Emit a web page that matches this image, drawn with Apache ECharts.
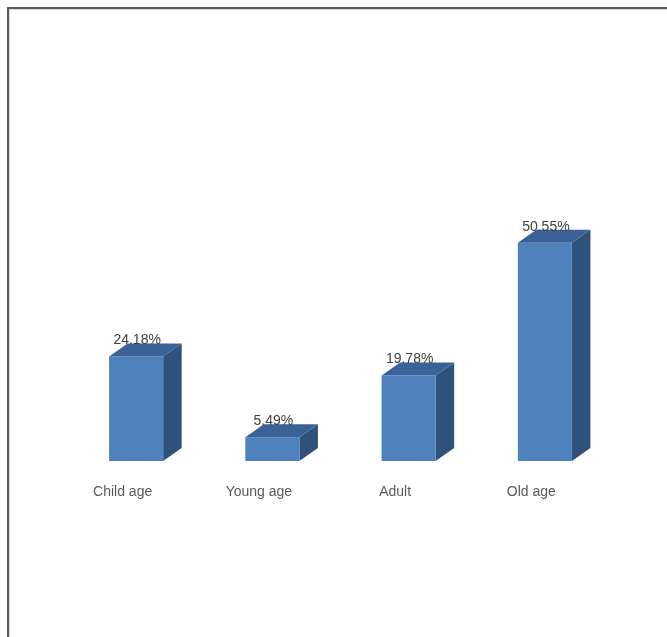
<!DOCTYPE html>
<html>
<head>
<meta charset="utf-8">
<script src="https://cdn.jsdelivr.net/npm/echarts@6/dist/echarts.min.js"></script>
<style>
  html, body { margin: 0; padding: 0; background: #ffffff; }
  #chart { width: 667px; height: 637px; }
</style>
</head>
<body>
<div id="chart"></div>
<script>
// Age groups and their share of the total (%)
const categories = ['Child age', 'Young age', 'Adult', 'Old age'];
const shares = [24.18, 5.49, 19.78, 50.55];

const FRONT = '#4f81bd';
const TOP = '#3a6299';
const SIDE = '#2f527c';
const DEPTH_X = 18.5;
const DEPTH_Y = 13;

const chart = echarts.init(document.getElementById('chart'), null, { renderer: 'canvas' });

// Pseudo-3D column: front face, top face and right side face
function renderColumn(params, api) {
  const idx = api.value(0);
  const val = api.value(1);
  const top = api.coord([idx, val]);
  const base = api.coord([idx, 0]);
  const w = api.size([1, 0])[0] * 0.397;
  const x0 = top[0] - w / 2;
  const x1 = top[0] + w / 2;
  const yT = top[1];
  const yB = base[1];
  return {
    type: 'group',
    children: [
      {
        type: 'polygon',
        shape: { points: [[x1, yT], [x1 + DEPTH_X, yT - DEPTH_Y], [x1 + DEPTH_X, yB - DEPTH_Y], [x1, yB]] },
        style: { fill: SIDE }
      },
      {
        type: 'rect',
        shape: { x: x0, y: yT, width: w, height: yB - yT },
        style: { fill: FRONT }
      },
      {
        type: 'polygon',
        shape: { points: [[x0, yT], [x0 + DEPTH_X, yT - DEPTH_Y], [x1 + DEPTH_X, yT - DEPTH_Y], [x1, yT]] },
        style: { fill: TOP }
      },
      {
        type: 'text',
        style: {
          x: top[0] + 1,
          y: yT - 16,
          text: val.toFixed(2) + '%',
          align: 'center',
          verticalAlign: 'middle',
          fill: '#404040',
          font: '14px "Liberation Sans", Arial, sans-serif'
        }
      }
    ]
  };
}

chart.setOption({
  backgroundColor: '#ffffff',
  animation: false,
  grid: { left: 68, right: 54, top: 202, bottom: 176, containLabel: false },
  xAxis: {
    type: 'category',
    data: categories,
    axisLine: { show: false },
    axisTick: { show: false },
    splitLine: { show: false },
    axisLabel: {
      margin: 24,
      padding: [0, 27, 0, 0],
      color: '#595959',
      fontSize: 14,
      fontFamily: '"Liberation Sans", Arial, sans-serif'
    }
  },
  yAxis: {
    type: 'value',
    min: 0,
    max: 60,
    show: false,
    splitLine: { show: false }
  },
  graphic: [
    { type: 'rect', shape: { x: 7, y: 7, width: 660, height: 2 }, style: { fill: '#5a5a5a' } },
    { type: 'rect', shape: { x: 7, y: 7, width: 2, height: 630 }, style: { fill: '#5a5a5a' } },
    { type: 'rect', shape: { x: 9, y: 9, width: 658, height: 1 }, style: { fill: '#d9d9d9' } },
    { type: 'rect', shape: { x: 9, y: 9, width: 1, height: 628 }, style: { fill: '#d9d9d9' } }
  ],
  series: [{
    type: 'custom',
    renderItem: renderColumn,
    encode: { x: 0, y: 1 },
    data: shares.map((v, i) => [i, v])
  }]
});
</script>
</body>
</html>
